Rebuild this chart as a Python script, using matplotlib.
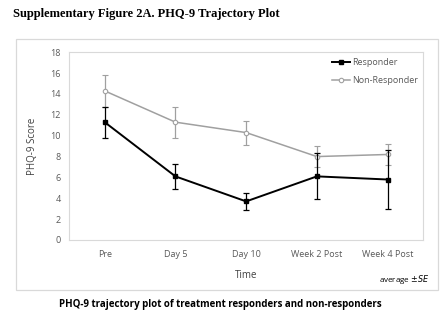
import matplotlib
matplotlib.use("Agg")
import matplotlib.pyplot as plt
from matplotlib.patches import Rectangle
from matplotlib.lines import Line2D

# PHQ-9 trajectory: average score and standard error per time point
time_points = ["Pre", "Day 5", "Day 10", "Week 2 Post", "Week 4 Post"]
resp_mean = [11.3, 6.1, 3.7, 6.1, 5.8]
resp_se = [1.5, 1.2, 0.8, 2.2, 2.8]
nonresp_mean = [14.3, 11.3, 10.3, 8.0, 8.2]
nonresp_se = [1.5, 1.5, 1.15, 1.0, 1.0]
y_ticks = [0, 2, 4, 6, 8, 10, 12, 14, 16, 18]

plt.rcParams['font.family'] = ['Open Sans', 'DejaVu Sans']

fig = plt.figure(figsize=(4.46, 3.27), dpi=100)
fig.patch.set_facecolor('white')

# outer chart frame
fig.patches.append(Rectangle((0.036, 0.114), 0.946, 0.766, transform=fig.transFigure,
                             fill=False, edgecolor='#d9d9d9', linewidth=0.9))

ax = fig.add_axes([0.1554, 0.2661, 0.793, 0.574])
x = list(range(len(time_points)))

gray = '#a0a0a0'
ax.errorbar(x, nonresp_mean, yerr=nonresp_se, color=gray, linewidth=1.1,
            marker='o', markersize=3.2, markerfacecolor='white', markeredgecolor=gray,
            markeredgewidth=0.8, ecolor=gray, elinewidth=0.9, capsize=2.5, capthick=0.9,
            zorder=2)
ax.errorbar(x, resp_mean, yerr=resp_se, color='black', linewidth=1.4,
            marker='s', markersize=3.2, markerfacecolor='black', markeredgecolor='black',
            ecolor='black', elinewidth=0.9, capsize=2.5, capthick=0.9,
            zorder=3)

ax.set_xlim(-0.5, len(time_points) - 0.5)
ax.set_ylim(0, 18)
ax.set_yticks(y_ticks)
ax.set_xticks(x)
ax.set_xticklabels(time_points)
ax.tick_params(axis='both', length=0, labelsize=6.5, colors='#595959')
ax.tick_params(axis='x', pad=7)
ax.tick_params(axis='y', pad=6)
for s in ax.spines.values():
    s.set_color('#d9d9d9')
    s.set_linewidth(0.8)

ax.set_ylabel('PHQ-9 Score', fontsize=7, color='#404040', labelpad=9)
ax.set_xlabel('Time', fontsize=7, color='#404040', labelpad=8)

handles = [
    Line2D([], [], color='black', linewidth=1.4, marker='s', markersize=3.2),
    Line2D([], [], color=gray, linewidth=1.1, marker='o', markersize=3.2,
           markerfacecolor='white', markeredgecolor=gray, markeredgewidth=0.8),
]
leg = ax.legend(handles, ['Responder', 'Non-Responder'], loc='upper right', frameon=False,
                fontsize=6.5, handlelength=2.0, handletextpad=0.2, labelspacing=1.0,
                borderaxespad=0.2)
for t in leg.get_texts():
    t.set_color('#595959')

fig.text(0.963, 0.145, r'average $\pm SE$', fontsize=5.8, ha='right', va='center', color='black')

fig.text(0.03, 0.958, 'Supplementary Figure 2A. PHQ-9 Trajectory Plot', fontsize=9,
         fontweight='bold', family='Liberation Serif', ha='left', va='center')
fig.text(0.495, 0.068, 'PHQ-9 trajectory plot of treatment responders and non-responders',
         fontsize=7, fontweight='bold', ha='center', va='center')

plt.savefig('out.png', dpi=100)
